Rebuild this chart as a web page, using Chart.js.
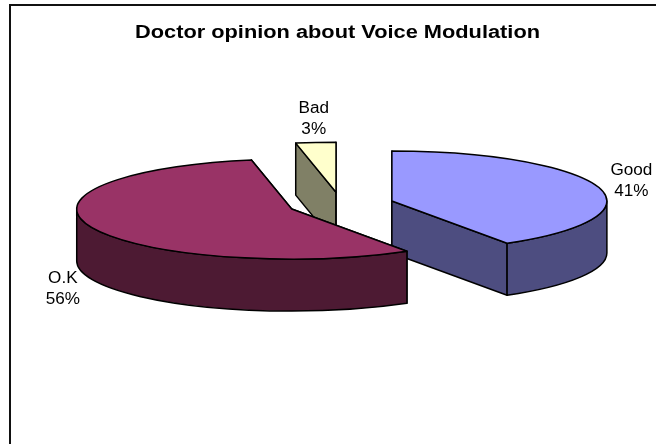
<!DOCTYPE html>
<html>
<head>
<meta charset="utf-8">
<style>html,body{margin:0;padding:0;background:#fff}canvas{display:block}</style>
<script src="https://cdn.jsdelivr.net/npm/chart.js@4/dist/chart.umd.min.js"></script>
</head>
<body>
<canvas id="chart" width="656" height="444"></canvas>
<script>
const chartTitle = 'Doctor opinion about Voice Modulation';
const categories = ['Good', 'O.K', 'Bad'];
const shares = [41, 56, 3];
const topColors = ['#9999FF', '#993366', '#FFFFCC'];
const sideColors = ['#4D4D80', '#4D1A33', '#808066'];

// Look of the tilted, exploded pie
const TILT = 0.2326;      // vertical squash of the circle
const DEPTH = 52;         // height of the extruded wall, px
const EXPLODE = 53;       // distance each slice is pulled out, px
const SHIFT_X = 3.5;      // pie sits slightly right of the title's centre
const TITLE_WIDEN = 1.245; // title glyphs are set wide
const LABEL_WIDEN = 1.07;
const LABEL_FONT = '16px "Liberation Sans", Arial, sans-serif';
const LABEL_LINE = 21;
const labelNudge = { 'Good': [2, -4], 'O.K': [1, 7], 'Bad': [1, -15.5] };

// Pie centre on screen for a slice: radial explosion, then tilt
function sliceFrame(arc) {
  const mid = (arc.startAngle + arc.endAngle) / 2;
  return {
    cx: arc.x + SHIFT_X + Math.cos(mid) * EXPLODE,
    cy: arc.y + Math.sin(mid) * EXPLODE * TILT,
    rx: arc.outerRadius,
    ry: arc.outerRadius * TILT,
    mid
  };
}

function rim(f, angle) {
  return [f.cx + Math.cos(angle) * f.rx, f.cy + Math.sin(angle) * f.ry];
}

function paintRadialWall(ctx, f, angle, color) {
  const [x, y] = rim(f, angle);
  ctx.beginPath();
  ctx.moveTo(f.cx, f.cy);
  ctx.lineTo(x, y);
  ctx.lineTo(x, y + DEPTH);
  ctx.lineTo(f.cx, f.cy + DEPTH);
  ctx.closePath();
  ctx.fillStyle = color;
  ctx.fill();
  ctx.stroke();
}

// Only the part of the rim facing the viewer (angles 0..PI, also 2PI..3PI) shows
function paintOuterWall(ctx, f, start, end, color) {
  for (const k of [-1, 0, 1]) {
    const a = Math.max(start, k * 2 * Math.PI);
    const b = Math.min(end, k * 2 * Math.PI + Math.PI);
    if (b <= a) continue;
    ctx.beginPath();
    ctx.ellipse(f.cx, f.cy, f.rx, f.ry, 0, a, b);
    ctx.ellipse(f.cx, f.cy + DEPTH, f.rx, f.ry, 0, b, a, true);
    ctx.closePath();
    ctx.fillStyle = color;
    ctx.fill();
    ctx.stroke();
  }
}

const tiltedPie = {
  id: 'tiltedPie',
  beforeDraw(chart) {
    // Chart frame: left and top rules only
    const ctx = chart.ctx;
    ctx.save();
    ctx.strokeStyle = '#111';
    ctx.lineWidth = 2;
    ctx.beginPath();
    ctx.moveTo(10, chart.height);
    ctx.lineTo(10, 5);
    ctx.lineTo(chart.width, 5);
    ctx.stroke();
    ctx.restore();

    // The title is the only layer drawn before the datasets: widen it about its centre
    const tb = chart.titleBlock;
    const mid = (tb.left + tb.right) / 2;
    ctx.save();
    ctx.translate(mid, 0);
    ctx.scale(TITLE_WIDEN, 1);
    ctx.translate(-mid, 0);
  },
  beforeDatasetsDraw(chart) {
    const ctx = chart.ctx;
    ctx.restore();

    const arcs = chart.getDatasetMeta(0).data;
    const order = arcs.map((arc, i) => ({ arc, i, f: sliceFrame(arc) }))
      .sort((p, q) => p.f.cy - q.f.cy);

    for (const { arc, i, f } of order) {
      ctx.save();
      ctx.strokeStyle = '#000';
      ctx.lineWidth = 1.5;
      ctx.lineJoin = 'round';
      paintRadialWall(ctx, f, arc.startAngle, sideColors[i]);
      paintRadialWall(ctx, f, arc.endAngle, sideColors[i]);
      paintOuterWall(ctx, f, arc.startAngle, arc.endAngle, sideColors[i]);

      // Top face: the library's own arc element under a squashed transform
      ctx.save();
      ctx.translate(f.cx, f.cy);
      ctx.scale(1, TILT);
      ctx.translate(-arc.x, -arc.y);
      arc.draw(ctx);
      ctx.restore();

      ctx.beginPath();
      ctx.moveTo(f.cx, f.cy);
      ctx.ellipse(f.cx, f.cy, f.rx, f.ry, 0, arc.startAngle, arc.endAngle);
      ctx.closePath();
      ctx.stroke();
      ctx.restore();
    }

    // Category and percentage labels just outside each slice
    ctx.save();
    ctx.font = LABEL_FONT;
    ctx.fillStyle = '#000';
    ctx.textAlign = 'center';
    ctx.textBaseline = 'middle';
    const total = shares.reduce((s, v) => s + v, 0);
    arcs.forEach((arc, i) => {
      const f = sliceFrame(arc);
      const [px, py] = rim({ ...f, rx: f.rx * 1.15, ry: f.ry * 1.15 }, f.mid);
      const below = Math.sin(f.mid) > 0 ? DEPTH : 0;
      const [nx, ny] = labelNudge[categories[i]];
      const y = py + below + ny;
      ctx.save();
      ctx.translate(px + nx, 0);
      ctx.scale(LABEL_WIDEN, 1);
      ctx.fillText(categories[i], 0, y - LABEL_LINE / 2);
      ctx.fillText(Math.round(shares[i] / total * 100) + '%', 0, y + LABEL_LINE / 2);
      ctx.restore();
    });
    ctx.restore();
    return false;
  }
};

new Chart(document.getElementById('chart'), {
  type: 'pie',
  data: {
    labels: categories,
    datasets: [{
      data: shares,
      backgroundColor: topColors,
      borderWidth: 0
    }]
  },
  options: {
    responsive: false,
    animation: false,
    radius: 215,
    layout: { padding: { left: 19, right: 0, top: 0, bottom: 83 } },
    plugins: {
      legend: { display: false },
      tooltip: { enabled: false },
      title: {
        display: true,
        text: chartTitle,
        color: '#000',
        font: { family: '"Liberation Sans", Arial, sans-serif', size: 17.5, weight: 'bold' },
        padding: { top: 22.5, bottom: 4.5 }
      }
    }
  },
  plugins: [tiltedPie]
});
</script>
</body>
</html>
